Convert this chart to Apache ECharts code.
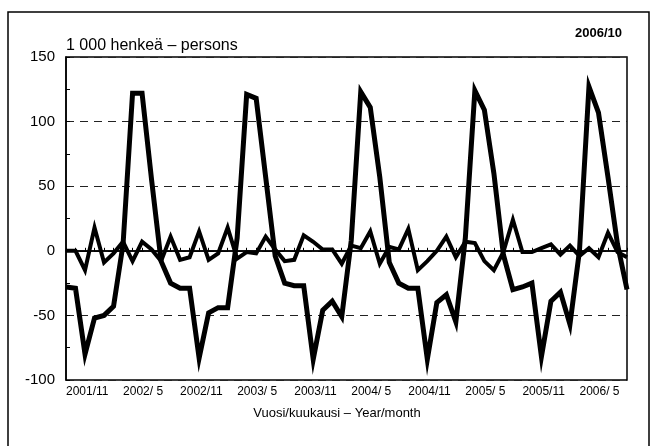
<!DOCTYPE html>
<html>
<head>
<meta charset="utf-8">
<script src="https://cdn.jsdelivr.net/npm/echarts@6/dist/echarts.min.js"></script>
<style>
html,body{margin:0;padding:0;background:#fff;}
#chart{width:657px;height:446px;}
</style>
</head>
<body>
<div id="chart"></div>
<script>
var months = [
  "2001/11","2001/12",
  "2002/ 1","2002/ 2","2002/ 3","2002/ 4","2002/ 5","2002/ 6","2002/ 7","2002/ 8","2002/ 9","2002/10","2002/11","2002/12",
  "2003/ 1","2003/ 2","2003/ 3","2003/ 4","2003/ 5","2003/ 6","2003/ 7","2003/ 8","2003/ 9","2003/10","2003/11","2003/12",
  "2004/ 1","2004/ 2","2004/ 3","2004/ 4","2004/ 5","2004/ 6","2004/ 7","2004/ 8","2004/ 9","2004/10","2004/11","2004/12",
  "2005/ 1","2005/ 2","2005/ 3","2005/ 4","2005/ 5","2005/ 6","2005/ 7","2005/ 8","2005/ 9","2005/10","2005/11","2005/12",
  "2006/ 1","2006/ 2","2006/ 3","2006/ 4","2006/ 5","2006/ 6","2006/ 7","2006/ 8","2006/ 9","2006/10"
];
var seasonalSeries = [
  -28,-29,-80,-52,-50,-43,5,122,122,55,
  -8,-25,-29,-29,-83,-48,-44,-44,10,121,
  118,57,-4,-25,-27,-27,-84,-46,-39,-51,
  8,123,111,57,-9,-25,-29,-29,-84,-40,
  -34,-55,10,124,109,60,-3,-30,-28,-25,
  -82,-39,-32,-57,0,127,107,57,5,-30
];
var smallSeries = [
  0,0,-15,18,-9,-2,7,-8,7,1,
  -8,11,-7,-5,15,-7,-2,18,-6,-1,
  -2,11,1,-8,-7,12,7,1,1,-10,
  4,2,15,-10,3,1,17,-15,-8,0,
  11,-5,7,6,-8,-15,-1,24,-1,-1,
  2,5,-3,4,-4,2,-5,14,-1,-5
];
var yMin = -100, yMax = 150, yStep = 50;
var unitTitle = "1 000 henkeä – persons";
var periodTitle = "2006/10";
var xAxisTitle = "Vuosi/kuukausi – Year/month";

var FONT = "'Liberation Sans',Arial,sans-serif";

var chart = echarts.init(document.getElementById('chart'), null, {renderer:'canvas'});
chart.setOption({
  animation:false,
  backgroundColor:'#fff',
  grid:{left:66,right:30,top:57,bottom:66,show:true,borderColor:'#000',borderWidth:1.5,backgroundColor:'transparent'},
  xAxis:{
    type:'category',
    data:months,
    boundaryGap:false,
    axisLine:{show:true,lineStyle:{color:'#000',width:1.5}},
    axisTick:{show:true,inside:true,length:3,interval:0,lineStyle:{color:'#000',width:1}},
    axisLabel:{interval:5,align:'left',margin:6,color:'#000',fontFamily:FONT,fontSize:12},
    splitLine:{show:false}
  },
  yAxis:{
    type:'value',
    min:yMin,max:yMax,interval:yStep,
    axisLine:{show:true,lineStyle:{color:'#000',width:1.5}},
    axisTick:{show:true,inside:true,length:4,lineStyle:{color:'#000'}},
    minorTick:{show:true,splitNumber:2,length:4,lineStyle:{color:'#000'}},
    axisLabel:{margin:11,color:'#000',fontFamily:FONT,fontSize:15},
    splitLine:{show:true,lineStyle:{color:'#222',width:1,type:[8,6]}}
  },
  series:[
    {
      type:'line',
      data:seasonalSeries,
      symbol:'none',
      lineStyle:{color:'#000',width:5,join:'miter'},
      z:3,
      markLine:{
        silent:true,symbol:['none','none'],label:{show:false},
        lineStyle:{color:'#000',width:1.5,type:'solid'},
        data:[{yAxis:0}],
        animation:false
      }
    },
    {
      type:'line',
      data:smallSeries,
      symbol:'none',
      lineStyle:{color:'#000',width:4,join:'miter'},
      z:4
    }
  ],
  graphic:[
    {type:'rect',shape:{x:8,y:12,width:641,height:460},style:{fill:'none',stroke:'#000',lineWidth:1.5},silent:true},
    {type:'text',x:66,y:46,style:{text:unitTitle,font:'16px '+FONT,fill:'#000',textAlign:'left',textVerticalAlign:'middle'}},
    {type:'text',x:622,y:33,style:{text:periodTitle,font:'bold 13px '+FONT,fill:'#000',textAlign:'right',textVerticalAlign:'middle'}},
    {type:'text',x:337,y:413,style:{text:xAxisTitle,font:'13px '+FONT,fill:'#000',textAlign:'center',textVerticalAlign:'middle'}}
  ]
});
</script>
</body>
</html>
